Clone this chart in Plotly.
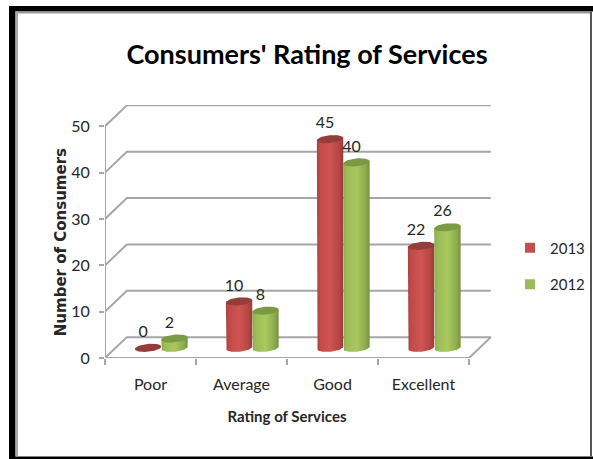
import numpy as np
import plotly.graph_objects as go

categories = ["Poor", "Average", "Good", "Excellent"]
values_2013 = [0, 10, 45, 22]
values_2012 = [2, 8, 40, 26]
y_ticks = [0, 10, 20, 30, 40, 50]

WIDTH, HEIGHT = 593, 459
FONT = "Lato, Liberation Sans, sans-serif"
TEXT = "#262626"
GRID = "#a6a6a6"

# Plot area holding the whole oblique box, in page pixels
PLOT_L, PLOT_W = 105, 387
PLOT_B, PLOT_H = 357.7, 252.7
# Front face of the box within that area
FRONT_W, FRONT_H = 364, 231.5

# Oblique depth of the 3-D box, in axis units
DEPTH_X, DEPTH_Y = 0.24, 4.5
# Cylinders stand halfway into the floor
BASE_X, BASE_Y = 0.118, 2.2
BAR_W = 0.29
ELL_H = 0.85
TILT = 0.25

RED = dict(top="#953d3b", scale=[[0, "#a94341"], [0.12, "#c04a48"], [0.5, "#d05452"], [0.85, "#b54644"], [1, "#943c3a"]])
GREEN = dict(top="#7c9a42", scale=[[0, "#89a84b"], [0.12, "#9bbb59"], [0.5, "#a9c95e"], [0.85, "#8dab4e"], [1, "#73903c"]])


def ellipse(cx, cy, t):
    dx = np.cos(t)
    return cx + dx * BAR_W / 2, cy + np.sin(t) * ELL_H + dx * TILT


def line(xs, ys, width=2):
    # Box edges sit on the wide, hidden axes beneath the cylinders
    return go.Scatter(x=xs, y=ys, xaxis="x", yaxis="y", mode="lines",
                      line=dict(color=GRID, width=width),
                      hoverinfo="skip", showlegend=False)


fig = go.Figure()

# Back wall, side wall and floor edges
for v in y_ticks:
    fig.add_trace(line([0, DEPTH_X, 4 + DEPTH_X], [v, v + DEPTH_Y, v + DEPTH_Y]))
fig.add_trace(line([0, 0], [0, 50]))
fig.add_trace(line([0, 4, 4 + DEPTH_X], [0, 0, DEPTH_Y]))


def cylinder(cx, value, style):
    top = value + BASE_Y
    tb = np.linspace(np.pi, 2 * np.pi, 30)
    bx, by = ellipse(cx, BASE_Y, tb)
    left_top = ellipse(cx, top, np.pi)
    right_top = ellipse(cx, top, 0.0)
    if value > 0:
        fig.add_trace(go.Scatter(
            x=np.r_[left_top[0], bx, right_top[0]],
            y=np.r_[left_top[1], by, right_top[1]],
            xaxis="x2", yaxis="y2",
            mode="lines", fill="toself", line=dict(width=0),
            fillgradient=dict(type="horizontal", colorscale=style["scale"]),
            hoverinfo="skip", showlegend=False))
    ta = np.linspace(0, 2 * np.pi, 60)
    ex, ey = ellipse(cx, top, ta)
    fig.add_trace(go.Scatter(x=ex, y=ey, xaxis="x2", yaxis="y2", mode="lines", fill="toself",
                             line=dict(width=0), fillcolor=style["top"],
                             hoverinfo="skip", showlegend=False))


for i in range(len(categories)):
    centre = i + 0.5 + BASE_X
    cylinder(centre - BAR_W / 2, values_2013[i], RED)
    cylinder(centre + BAR_W / 2, values_2012[i], GREEN)

# Value labels above each cylinder, on top of everything
centres = np.arange(len(categories)) + 0.5 + BASE_X
for vals, shift in ((values_2013, -BAR_W / 2), (values_2012, BAR_W / 2)):
    fig.add_trace(go.Scatter(
        x=centres + shift - 0.055, y=np.array(vals) + BASE_Y + 3.2,
        xaxis="x3", yaxis="y3",
        mode="text", text=[str(v) for v in vals], textposition="middle center",
        textfont=dict(family=FONT, size=16, color=TEXT),
        hoverinfo="skip", showlegend=False))

# Legend swatches
for name, colour in (("2013", "#c0504d"), ("2012", "#9bbb59")):
    fig.add_trace(go.Scatter(x=[None], y=[None], xaxis="x2", yaxis="y2", mode="markers",
                             name=name, legendgroup=name,
                             marker=dict(symbol="square", size=10, color=colour)))


def px_rect(x0, y0, x1, y1, colour):
    return dict(type="rect", xref="paper", yref="paper", layer="below", line=dict(width=0),
                fillcolor=colour,
                x0=(x0 - PLOT_L) / PLOT_W, x1=(x1 - PLOT_L) / PLOT_W,
                y0=(PLOT_B - y1) / PLOT_H, y1=(PLOT_B - y0) / PLOT_H)


# Page frame
frame = [
    px_rect(9, 6, 593, 11.5, "#000000"),
    px_rect(9, 6, 15.5, 459, "#000000"),
    px_rect(9, 456, 593, 459, "#000000"),
    px_rect(15.5, 11.5, 591, 13.5, "#999999"),
    px_rect(15.5, 11.5, 18, 456, "#aaaaaa"),
    px_rect(590, 11.5, 592, 456, "#555555"),
]

wide_x = [0, 4 * PLOT_W / FRONT_W]
wide_y = [0, 50 * PLOT_H / FRONT_H]

fig.update_layout(
    width=WIDTH, height=HEIGHT, autosize=False,
    margin=dict(l=PLOT_L, r=WIDTH - PLOT_L - PLOT_W, t=PLOT_B - PLOT_H, b=HEIGHT - PLOT_B, pad=0),
    paper_bgcolor="white", plot_bgcolor="rgba(0,0,0,0)",
    shapes=frame,
    title=dict(text="Consumers' Rating of Services", x=307 / WIDTH, xref="container", xanchor="center",
               y=1 - 55 / HEIGHT, yref="container", yanchor="middle",
               font=dict(family=FONT, size=27, color="#000000", weight="bold")),
    # Wide hidden axes: same scale as the front axes, extended by the box depth
    xaxis=dict(domain=[0, 1], range=wide_x, visible=False, anchor="y"),
    yaxis=dict(domain=[0, 1], range=wide_y, visible=False, anchor="x"),
    xaxis3=dict(domain=[0, 1], range=wide_x, visible=False, anchor="y3"),
    yaxis3=dict(domain=[0, 1], range=wide_y, visible=False, anchor="x3"),
    # Front axes carrying ticks, labels and titles
    xaxis2=dict(domain=[0, FRONT_W / PLOT_W], range=[0, 4], anchor="y2", tickmode="array",
                tickvals=[0.5, 1.5, 2.5, 3.5], ticktext=categories,
                ticks="", ticklen=0, showgrid=False, zeroline=False, showline=False,
                tickfont=dict(family=FONT, size=16, color=TEXT), ticklabelstandoff=15,
                minor=dict(tickmode="array", tickvals=[0, 1, 2, 3, 4], ticks="outside", ticklen=6,
                           tickcolor=GRID, tickwidth=2, showgrid=False),
                title=dict(text="Rating of Services", standoff=19,
                           font=dict(family=FONT, size=15, color=TEXT, weight="bold"))),
    yaxis2=dict(domain=[0, FRONT_H / PLOT_H], range=[0, 50], anchor="x2", tickmode="array",
                tickvals=y_ticks, ticks="outside", ticklen=5,
                tickcolor=GRID, tickwidth=2, showgrid=False, zeroline=False, showline=False,
                tickfont=dict(family=FONT, size=16, color=TEXT), ticklabelstandoff=6,
                title=dict(text="Number of Consumers", standoff=0,
                           font=dict(family="DejaVu Sans", size=15, color=TEXT, weight="bold"))),
    legend=dict(x=510 / WIDTH, y=1 - 266 / HEIGHT, xref="container", yref="container", xanchor="left",
                yanchor="middle", tracegroupgap=14, bgcolor="rgba(0,0,0,0)",
                font=dict(family=FONT, size=15, color=TEXT)),
    showlegend=True,
)

fig.write_html("out.html")
